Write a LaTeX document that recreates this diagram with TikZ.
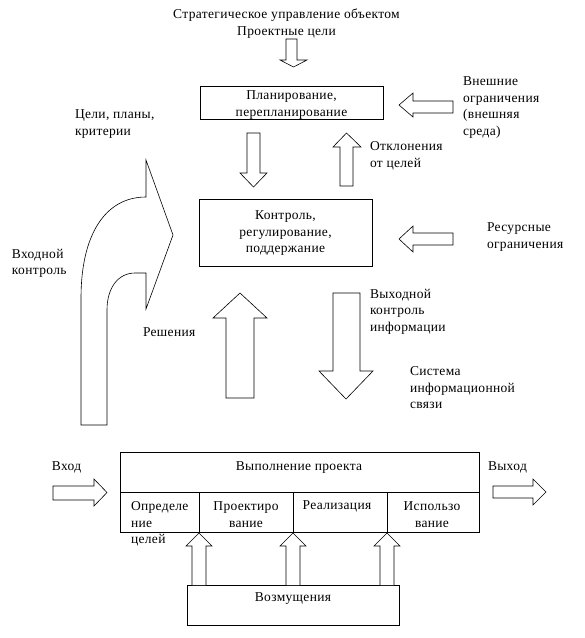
\documentclass[tikz,border=0pt]{standalone}
\usepackage{fontspec}
\setmainfont{Liberation Serif}[LetterSpace=2.5]
\begin{document}
\begin{tikzpicture}[x=1pt,y=-1pt,
  every node/.style={inner sep=0pt,outer sep=0pt},
  txt/.style={font=\fontsize{13.5}{16.4}\selectfont,align=left,anchor=north west},
  ctxt/.style={font=\fontsize{13.5}{16.4}\selectfont,align=center,anchor=north},
  boxx/.style={draw,line width=0.7pt},
  barrow/.style={draw,line width=0.6pt,fill=white,line join=miter}]
\useasboundingbox (0,0) rectangle (585,638);

% title
\node[ctxt] (title) at (286.5,9) {Стратегическое управление объектом\\Проектные цели};
\draw[barrow] (286,39) -- (297,39) -- (297,60) -- (307,60) -- (293.5,67) -- (280,60) -- (286,60) -- cycle;

% planning box
\draw[boxx] (200,86) rectangle (383,119);
\node[ctxt] (plan) at (291.5,91) {Планирование,\\перепланирование};

% external constraints
\draw[barrow] (453,101) -- (413,101) -- (413,93) -- (399,105) -- (413,117) -- (413,113) -- (453,113) -- cycle;
\node[txt] (ext) at (463,77) {Внешние\\ограничения\\(внешняя\\среда)};

% planning <-> control arrows
\draw[barrow] (247,133) -- (260,133) -- (260,173) -- (267,173) -- (253.5,187) -- (240,173) -- (247,173) -- cycle;
\draw[barrow] (340,186) -- (353,186) -- (353,147) -- (361,147) -- (346.5,133) -- (333,147) -- (340,147) -- cycle;
\node[txt] (dev) at (370,142) {Отклонения\\от целей};

% control box
\draw[boxx] (199,199) rectangle (372,266);
\node[ctxt] (ctrl) at (285.5,211) {Контроль,\\регулирование,\\поддержание};

% resource constraints
\draw[barrow] (453,233) -- (413,233) -- (413,226) -- (399,239) -- (413,252) -- (413,245) -- (453,245) -- cycle;
\node[txt] (res) at (487,223) {Ресурсные\\ограничения};

% curved arrow
\draw[barrow] (81,425) -- (81,298) .. controls (81,235) and (105,197) .. (146,197)
  -- (146,160) -- (173,235) -- (146,309) -- (146,273) -- (135,273)
  .. controls (118,273) and (107,288) .. (107,310) -- (107,425) -- cycle;
\node[txt] (goals) at (75,110) {Цели, планы,\\критерии};
\node[txt] (inctrl) at (12,249) {Входной\\контроль};
\node[txt] (dec) at (143,328) {Решения};

% big up/down arrows
\draw[barrow] (226,398) -- (254,398) -- (254,318) -- (267,318) -- (240,293) -- (213,318) -- (226,318) -- cycle;
\draw[barrow] (333,293) -- (360,293) -- (360,371) -- (373,371) -- (346,399) -- (319,371) -- (333,371) -- cycle;
\node[txt] (outctrl) at (370,289) {Выходной\\контроль\\информации};
\node[txt] (infsys) at (410,367) {Система\\информационной\\связи};

% execution box
\draw[boxx] (120,452) rectangle (479,532);
\draw[boxx] (120,492) -- (479,492);
\draw[boxx] (199,492) -- (199,532);
\draw[boxx] (293,492) -- (293,532);
\draw[boxx] (387,492) -- (387,532);
\node[ctxt] (exec) at (299,462) {Выполнение проекта};
\node[txt] (s1) at (131,502) {Определе\\ние\\целей};
\node[ctxt] (s2) at (246,502) {Проектиро\\вание};
\node[ctxt] (s3) at (337,501) {Реализация};
\node[ctxt] (s4) at (432,502) {Использо\\вание};

% in / out
\node[txt] (in) at (52,462) {Вход};
\draw[barrow] (53,486) -- (94,486) -- (94,479) -- (107,492.5) -- (94,506) -- (94,500) -- (53,500) -- cycle;
\node[txt] (out) at (488,462) {Выход};
\draw[barrow] (493,486) -- (533,486) -- (533,479) -- (546,492) -- (533,505) -- (533,498) -- (493,498) -- cycle;

% disturbances
\draw[boxx] (187,585) rectangle (399,625);
\node[ctxt] (dist) at (293,593) {Возмущения};
\foreach \cx in {199,293,387}{
  \draw[barrow] (\cx-7,585) -- (\cx-7,546) -- (\cx-13,546) -- (\cx,533) -- (\cx+13,546) -- (\cx+7,546) -- (\cx+7,585);
}
\end{tikzpicture}
\end{document}
